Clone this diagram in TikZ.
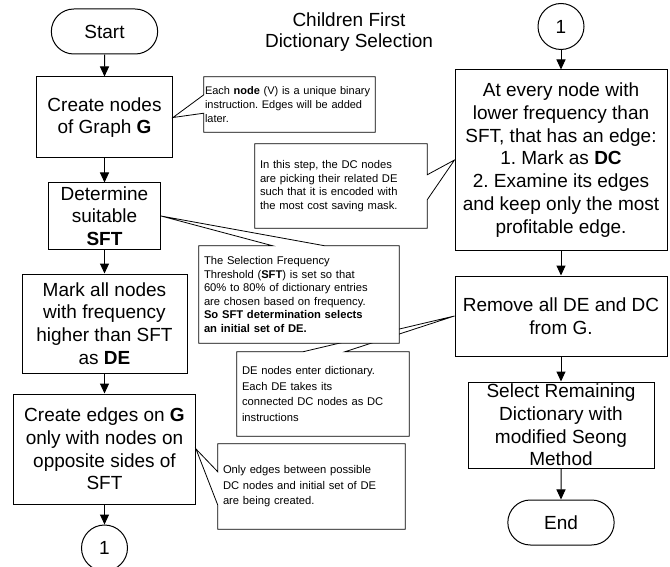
\documentclass[tikz,border=0pt]{standalone}
\usepackage{fontspec}
\setmainfont{Liberation Sans}
\usetikzlibrary{shapes.misc, arrows.meta, backgrounds}
\frenchspacing
\hyphenpenalty=10000

\begin{document}
\begin{tikzpicture}[
  x=1pt, y=-1pt,
  stepbox/.style={draw, line width=1pt, align=center, inner sep=0pt, font=\fontsize{19}{22.7}\selectfont},
  term/.style={draw, rounded rectangle, line width=1pt, minimum width=113pt, minimum height=45pt, font=\fontsize{19}{22.7}\selectfont},
  conn/.style={draw, circle, line width=1pt, minimum size=46pt, inner sep=0pt, font=\fontsize{19}{22.7}\selectfont},
  note/.style={align=left, inner xsep=5pt, inner ysep=0pt, font=\fontsize{11.2}{13.6}\selectfont},
  noteline/.style={draw, fill=white, line width=0.8pt},
  flow/.style={-{Triangle[width=9pt,length=10pt]}, line width=1pt},
]
  \useasboundingbox (0,0) rectangle (670,567);

  % Title
  \node[font=\fontsize{19}{21.5}\selectfont, align=center] (title) at (349,32) {Children First\\Dictionary Selection};

  % Left column
  \node[term] (start) at (104.5,31.5) {Start};
  \node[stepbox, minimum width=136pt, minimum height=81pt] (create) at (104.5,117.5) {Create nodes\\of Graph \textbf{G}};
  \node[stepbox, minimum width=112pt, minimum height=66pt] (suit) at (104.5,216) {Determine\\suitable\\\textbf{SFT}};
  \node[stepbox, minimum width=165pt, minimum height=99pt] (mark) at (104.5,323.5) {Mark all nodes\\with frequency\\higher than SFT\\as \textbf{DE}};
  \node[stepbox, minimum width=182pt, minimum height=110pt] (edges) at (104.5,449) {Create edges on \textbf{G}\\only with nodes on\\opposite sides of\\SFT};
  \node[conn] (outA) at (104.5,548) {1};

  % Right column
  \node[conn] (inA) at (561,26.5) {1};
  \node[stepbox, minimum width=212pt, minimum height=180pt] (mark2) at (561,160) {At every node with\\lower frequency than\\SFT, that has an edge:\\1. Mark as \textbf{DC}\\2. Examine its edges\\and keep only the most\\profitable edge.};
  \node[stepbox, minimum width=212pt, minimum height=80pt] (remove) at (561,316) {Remove all DE and DC\\from G.};
  \node[stepbox, minimum width=186pt, minimum height=86pt] (select) at (561,425) {Select Remaining\\Dictionary with\\modified Seong\\Method};
  \node[term] (end) at (561,522.5) {End};

  \draw[flow] (start) -- (create);
  \draw[flow] (create) -- (suit);
  \draw[flow] (suit) -- (mark);
  \draw[flow] (mark) -- (edges);
  \draw[flow] (edges) -- (outA);
  \draw[flow] (inA) -- (mark2);
  \draw[flow] (mark2) -- (remove);
  \draw[flow] (remove) -- (select);
  \draw[flow] (select) -- (end);

  % Notes
  \node[note, inner xsep=1pt, text width=169pt, minimum height=55pt, font=\fontsize{11}{13.6}\selectfont] (n1) at (289.5,104.5) {Each \textbf{node} (V) is a unique binary\\instruction. Edges will be added\\later.};
  \node[note, text width=162pt, minimum height=84pt] (n2) at (341,186) {In this step, the DC nodes\\are picking their related DE\\such that it is encoded with\\the most cost saving mask.};
  \node[note, text width=190pt, minimum height=97pt] (n3) at (299,294.5) {The Selection Frequency\\Threshold (\textbf{SFT}) is set so that\\60\% to 80\% of dictionary entries\\are chosen based on frequency.\\\textbf{So SFT determination selects}\\\textbf{an initial set of DE.}};
  \node[note, text width=162pt, minimum height=84pt, font=\fontsize{11.2}{15.4}\selectfont] (n4) at (323,394) {DE nodes enter dictionary.\\Each DE takes its\\connected DC nodes as DC\\instructions};
  \node[note, text width=177pt, minimum height=85pt, font=\fontsize{11.2}{15.4}\selectfont] (n5) at (311.5,486.5) {Only edges between possible\\DC nodes and initial set of DE\\are being created.};

  \begin{scope}[on background layer]
    \fill[white] (0,0) rectangle (670,567);
    \draw[noteline] (n1.north west) -- (n1.north east) -- (n1.south east) -- (n1.south west)
      -- ([yshift=19pt]n1.south west) -- (create.east) -- ([yshift=-18pt]n1.north west) -- cycle;
    \draw[noteline] (n2.north west) -- (n2.north east) -- ([yshift=-31pt]n2.north east) -- (mark2.west)
      -- ([yshift=-56pt]n2.north east) -- (n2.south east) -- (n2.south west) -- cycle;
    \draw[noteline] (n4.north west) -- ([xshift=66pt]n4.north west) -- (remove.west)
      -- ([xshift=108pt]n4.north west) -- (n4.north east) -- (n4.south east) -- (n4.south west) -- cycle;
    \draw[noteline] (n3.north west) -- ([xshift=74pt]n3.north west) -- (suit.east)
      -- ([xshift=126pt]n3.north west) -- (n3.north east) -- (n3.south east) -- (n3.south west) -- cycle;
    \draw[noteline] (n5.north west) -- (n5.north east) -- (n5.south east) -- (n5.south west)
      -- ([yshift=24pt]n5.south west) -- (edges.east) -- ([yshift=-28pt]n5.north west) -- cycle;
  \end{scope}
\end{tikzpicture}
\end{document}
